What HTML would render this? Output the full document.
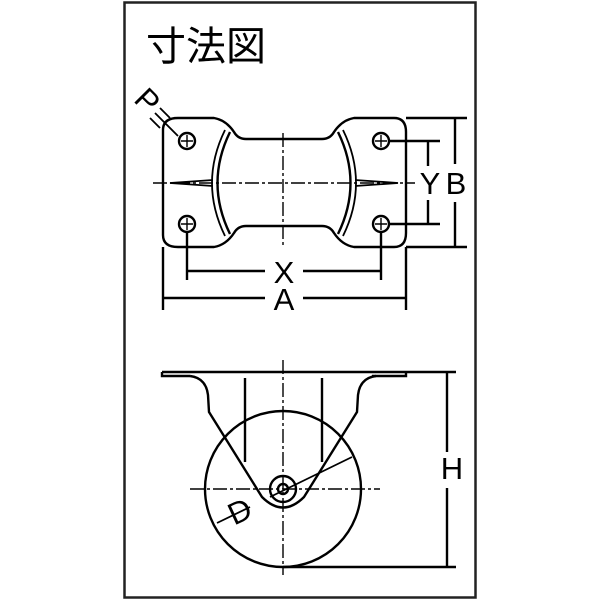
<!DOCTYPE html>
<html><head><meta charset="utf-8"><style>
html,body{margin:0;padding:0;background:#fff;width:600px;height:600px;overflow:hidden}
</style></head><body>
<svg width="600" height="600" viewBox="0 0 600 600" xmlns="http://www.w3.org/2000/svg">
<rect x="124.5" y="2.5" width="351" height="595" fill="#fff" stroke="#222" stroke-width="2.5"/>
<text x="146" y="60" font-family="'Liberation Sans','Noto Sans CJK JP',sans-serif" font-size="40" fill="#000">寸法図</text>
<g fill="none" stroke="#000" stroke-width="2.4">
<path d="M163,130 Q163,118 178,118 L214,118 Q226,120 234,132 Q238,139 246,139 L322,139 Q330,139 334,132 Q342,120 354,118 L394,118 Q406,118 406,132 L406,233 Q406,247 394,247 L354,247 Q342,245 334,233 Q330,226 322,226 L246,226 Q238,226 234,233 Q226,245 214,247 L178,247 Q163,247 163,235 Z"/>
<path d="M230,132 Q205,183 230,234"/>
<path d="M225,130 Q199,183 225,236" stroke-width="1.8"/>
<path d="M338,132 Q363,183 338,234"/>
<path d="M343,130 Q369,183 343,236" stroke-width="1.8"/>
<path d="M213,180 L170,183 L213,186" stroke-width="1.8"/>
<path d="M355,180 L398,183 L355,186" stroke-width="1.8"/>
<circle cx="187" cy="141" r="8"/><circle cx="381" cy="141" r="8"/>
<circle cx="187" cy="224" r="8"/><circle cx="381" cy="224" r="8"/>
</g>
<g stroke="#000" stroke-width="1.4" fill="none">
<path d="M181,141h12M187,135v12M375,141h12M381,135v12M181,224h12M187,218v12M375,224h12M381,218v12"/>
<path d="M153,183H415" stroke-dasharray="14,3,3,3"/>
<path d="M283,133V245" stroke-dasharray="14,3,3,3"/>
</g>
<g stroke="#000" stroke-width="2.4" fill="none">
<path d="M187,232V280M381,232V280M187,271H265M303,271H381"/>
<path d="M163,247V310M406,247V310M163,298H265M303,298H406"/>
<path d="M389,141H440M389,224H440M428,141V166M428,200V224"/>
<path d="M406,118H467M406,247H467M455,118V164M455,202V247"/>
<path d="M155,113 L178,136" stroke-width="1.8"/>
<path d="M160,108 L170,118 M150,118 L160,128" stroke-width="1.8"/>
</g>
<g font-family="'Liberation Sans',sans-serif" font-size="31" fill="#000" text-anchor="middle">
<text x="284" y="283">X</text>
<text x="284" y="310">A</text>
<text x="430" y="194">Y</text>
<text x="456" y="194">B</text>
<text x="452" y="479">H</text>
<text transform="translate(147,101) rotate(45)" x="0" y="10">P</text>
<text transform="translate(240,512) rotate(-25)" x="0" y="10">D</text>
</g>
<g fill="none" stroke="#000" stroke-width="2.4">
<path d="M162,372H456M162,372V376H190M372,376H406V372"/>
<path d="M190,376 Q206,378 208,395 L209,412 L262,497 Q283,518 304,497 L357,412 L358,395 Q360,378 376,376"/>
<circle cx="283" cy="489" r="78"/>
<circle cx="283" cy="489" r="13"/>
<circle cx="283" cy="489" r="5"/>
<path d="M245,378V462M322,378V462"/>
<path d="M447,372V452M447,488V567M283,567H456"/>
<path d="M217,523 L250,507 M270,497 L352,457" stroke-width="1.8"/>
</g>
<g stroke="#000" stroke-width="1.4" fill="none" stroke-dasharray="14,3,3,3">
<path d="M190,489H380"/>
<path d="M283,360V575"/>
</g>
</svg>
</body></html>
